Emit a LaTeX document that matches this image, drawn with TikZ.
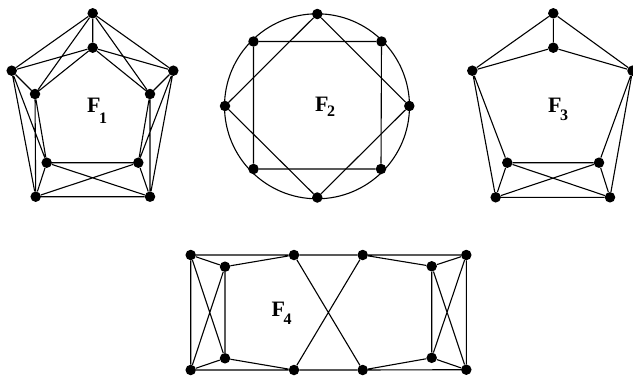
\documentclass[tikz,border=0pt]{standalone}
\usepackage{fontspec}
\setmainfont{Liberation Serif}
\newcommand\flab[2]{\textbf{F}\kern-1.5pt\raisebox{-#2}{\fontsize{16}{16}\selectfont\textbf{#1}}}
\begin{document}
\begin{tikzpicture}[x=1pt,y=-1pt,
  dot/.style={circle,fill=black,inner sep=0pt,minimum size=10.5pt},
  edge/.style={line width=1.1pt},
  lab/.style={inner sep=0pt,anchor=base west,font=\fontsize{22}{22}\selectfont}]
\useasboundingbox (0,0) rectangle (633,380);
% F1
\node[dot] (a1) at (92.7,13.3) {};
\node[dot] (a2) at (92.7,47.7) {};
\node[dot] (a3) at (11.7,70.7) {};
\node[dot] (a4) at (173.3,70.7) {};
\node[dot] (a5) at (35,94) {};
\node[dot] (a6) at (150,94) {};
\node[dot] (a7) at (46.7,162.7) {};
\node[dot] (a8) at (138.3,162.7) {};
\node[dot] (a9) at (35.7,196.7) {};
\node[dot] (a10) at (150,196.7) {};
\draw[edge] (a1)--(a2) (a1)--(a3) (a1)--(a4) (a1)--(a5) (a1)--(a6)
  (a2)--(a3) (a2)--(a4) (a2)--(a5) (a2)--(a6) (a3)--(a5) (a4)--(a6)
  (a3)--(a7) (a3)--(a9) (a5)--(a7) (a5)--(a9) (a4)--(a8) (a4)--(a10)
  (a6)--(a8) (a6)--(a10) (a7)--(a8) (a9)--(a10) (a7)--(a10) (a8)--(a9)
  (a7)--(a9) (a8)--(a10);
\node[lab] (l1) at (87,112.3) {\flab{1}{11pt}};
% F2
\draw[edge] (317,106.3) circle (92.5);
\node[dot] (e1) at (317.3,14) {};
\node[dot] (e2) at (381.5,41.5) {};
\node[dot] (e3) at (409.3,106) {};
\node[dot] (e4) at (381,169) {};
\node[dot] (e5) at (317.3,197.5) {};
\node[dot] (e6) at (253.5,169) {};
\node[dot] (e7) at (225,106) {};
\node[dot] (e8) at (253.5,41.5) {};
\draw[edge] (e8)--(e2)--(e4)--(e6)--(e8);
\draw[edge] (e1)--(e3)--(e5)--(e7)--(e1);
\node[lab] (l2) at (315,111.7) {\flab{2}{5pt}};
% F3
\node[dot] (b1) at (553.3,13.3) {};
\node[dot] (b2) at (553.3,47.7) {};
\node[dot] (b3) at (472.3,70.7) {};
\node[dot] (b4) at (632.5,70.7) {};
\node[dot] (b5) at (507.3,162.7) {};
\node[dot] (b6) at (599,162.7) {};
\node[dot] (b7) at (495.7,197.3) {};
\node[dot] (b8) at (610,197.3) {};
\draw[edge] (b1)--(b2) (b1)--(b3) (b1)--(b4) (b2)--(b3) (b2)--(b4)
  (b3)--(b5) (b3)--(b7) (b4)--(b6) (b4)--(b8) (b5)--(b6) (b7)--(b8)
  (b5)--(b8) (b6)--(b7) (b5)--(b7) (b6)--(b8);
\node[lab] (l3) at (548,112.3) {\flab{3}{8pt}};
% F4
\node[dot] (c1) at (190.7,255) {};
\node[dot] (c2) at (225,266.7) {};
\node[dot] (c3) at (294,255) {};
\node[dot] (c4) at (362.7,255) {};
\node[dot] (c5) at (431.7,266.3) {};
\node[dot] (c6) at (466.3,255) {};
\node[dot] (d1) at (190.7,370) {};
\node[dot] (d2) at (225,358.3) {};
\node[dot] (d3) at (294,370) {};
\node[dot] (d4) at (362.7,370) {};
\node[dot] (d5) at (431.7,357.8) {};
\node[dot] (d6) at (466.3,369.7) {};
\draw[edge] (c1)--(c3)--(c4)--(c6) (d1)--(d3)--(d4)--(d6)
  (c1)--(d1) (c6)--(d6) (c2)--(d2) (c5)--(d5)
  (c1)--(c2) (c1)--(d2) (d1)--(c2) (d1)--(d2)
  (c2)--(c3) (d2)--(d3) (c3)--(d4) (c4)--(d3)
  (c4)--(c5) (d4)--(d5) (c6)--(c5) (c6)--(d5) (d6)--(c5) (d6)--(d5);
\node[lab] (l4) at (271.5,316.7) {\flab{4}{8pt}};
\end{tikzpicture}
\end{document}
